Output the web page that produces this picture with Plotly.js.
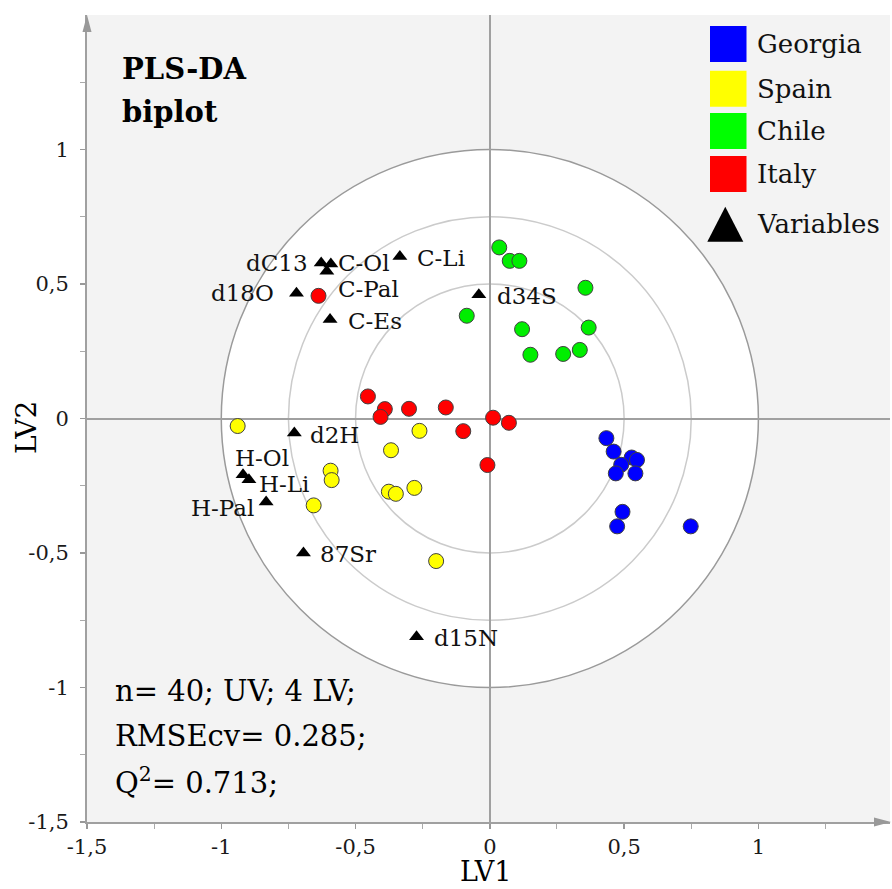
<!DOCTYPE html>
<html><head><meta charset="utf-8">
<script src="https://cdn.plot.ly/plotly-3.0.1.min.js"></script>
<style>html,body{margin:0;padding:0;background:#fff}</style>
</head><body><div id="chart" style="width:892px;height:889px"></div>
<script>
// ---- data ----
const countries = ['Georgia','Spain','Chile','Italy'];
const countryColors = ['#0000ff','#ffff00','#00ee00','#ff0000'];

const georgiaX = [0.434,0.461,0.528,0.548,0.489,0.469,0.542,0.494,0.474,0.748];
const georgiaY = [-0.073,-0.123,-0.145,-0.154,-0.172,-0.204,-0.204,-0.347,-0.401,-0.401];

const spainX = [-0.939,-0.262,-0.368,-0.593,-0.589,-0.656,-0.376,-0.350,-0.281,-0.200];
const spainY = [-0.028,-0.046,-0.118,-0.194,-0.229,-0.323,-0.272,-0.280,-0.258,-0.530];

const chileX = [0.035,0.074,0.110,-0.086,0.356,0.120,0.368,0.151,0.273,0.335];
const chileY = [0.636,0.586,0.586,0.382,0.486,0.332,0.338,0.237,0.240,0.255];

const italyX = [-0.638,-0.454,-0.391,-0.407,-0.301,-0.164,-0.099,0.012,0.071,-0.009];
const italyY = [0.456,0.082,0.035,0.006,0.036,0.041,-0.047,0.003,-0.016,-0.173];

const varNames = ['dC13','C-Ol','C-Pal','C-Li','d18O','C-Es','d34S','d2H','H-Ol','H-Li','H-Pal','87Sr','d15N'];
const varX = [-0.628,-0.592,-0.607,-0.335,-0.720,-0.595,-0.041,-0.728,-0.919,-0.897,-0.833,-0.694,-0.273];
const varY = [0.578,0.574,0.547,0.602,0.466,0.368,0.460,-0.054,-0.209,-0.228,-0.310,-0.500,-0.811];

const tickVals = [-1.5,-1,-0.5,0,0.5,1];
const tickText = ['-1,5','-1','-0,5','0','0,5','1'];
const minorVals = [-1.25,-0.75,-0.25,0.25,0.75,1.25];
const circleRadii = [1, 0.75, 0.5];

// ---- styles / layout helpers ----
const FONT = 'DejaVu Serif, Liberation Serif, serif';
const W = 892, H = 889, ML = 87, MR = 2, MT = 15, MB = 67;
const PW = W - ML - MR, PH = H - MT - MB;
const px2x = p => (p - ML) / PW;          // pixel -> paper x
const py2y = p => (H - MB - p) / PH;      // pixel -> paper y

// label placement (pixel offsets) for variable names
const labAnchor = ['right','left','left','left','right','left','left','left','left','left','right','left','left'];
const labDx = [-11,5,9,15,-20,16,16,14,-10,8,-10,15,15];
const labDy = [0,1,-18,-1,0,-1,-1,-2,17,-4,-6,-1,-1];

const groupsX = [georgiaX, spainX, chileX, italyX];
const groupsY = [georgiaY, spainY, chileY, italyY];

const traces = countries.map((c,i) => ({
  type:'scatter', mode:'markers', name:c,
  x: groupsX[i], y: groupsY[i],
  marker:{size:15, color:countryColors[i], line:{color:'#404040', width:1}},
  showlegend:false, hoverinfo:'x+y+name'
}));
traces.push({
  type:'scatter', mode:'markers', name:'Variables',
  x: varX, y: varY, text: varNames,
  marker:{symbol:'triangle-up', size:13, color:'#000'},
  showlegend:false, hoverinfo:'text'
});

const shapes = [];
circleRadii.forEach((r,i) => {
  shapes.push({type:'circle', xref:'x', yref:'y', x0:-r, x1:r, y0:-r, y1:r,
    layer:'below',
    fillcolor: i===0 ? '#ffffff' : 'rgba(0,0,0,0)',
    line:{color: i===0 ? '#9a9a9a' : '#cbcbcb', width:1.5}});
});
// axis arrows
shapes.push({type:'path', xref:'paper', yref:'paper', layer:'above',
  path:`M0,1 L${-4.5/PW},${1-17/PH} L${4.5/PW},${1-17/PH} Z`,
  fillcolor:'#999', line:{width:0}});
shapes.push({type:'path', xref:'paper', yref:'paper', layer:'above',
  path:`M${px2x(891)},0 L${px2x(874)},${4.5/PH} L${px2x(874)},${-4.5/PH} Z`,
  fillcolor:'#999', line:{width:0}});

// legend (drawn manually: big swatches)
const legRowY = [44, 88.7, 131, 174];
countries.forEach((c,i) => {
  shapes.push({type:'rect', xref:'paper', yref:'paper',
    x0:px2x(710), x1:px2x(746.5), y0:py2y(legRowY[i]+18), y1:py2y(legRowY[i]-18),
    fillcolor:countryColors[i]==='#00ee00'?'#00ff00':countryColors[i], line:{width:0}});
});
shapes.push({type:'path', xref:'paper', yref:'paper',
  path:`M${px2x(725.3)},${py2y(206.7)} L${px2x(743.3)},${py2y(241.7)} L${px2x(707.3)},${py2y(241.7)} Z`,
  fillcolor:'#000', line:{width:0}});

const annotations = [];
countries.concat(['Variables']).forEach((c,i) => {
  const yc = i < 4 ? legRowY[i] : 224;
  annotations.push({xref:'paper', yref:'paper', x:px2x(755), y:py2y(yc), xanchor:'left', yanchor:'middle',
    text:c, showarrow:false, font:{family:FONT, size:26, color:'#111'}});
});
varNames.forEach((n,i) => {
  annotations.push({xref:'x', yref:'y', x:varX[i], y:varY[i], xanchor:labAnchor[i], yanchor:'middle',
    xshift:labDx[i], yshift:labDy[i], text:n, showarrow:false,
    font:{family:FONT, size:23, color:'#111'}});
});
annotations.push({xref:'paper', yref:'paper', x:px2x(120), y:py2y(69), xanchor:'left', yanchor:'middle',
  text:'<b>PLS-DA</b>', showarrow:false, font:{family:FONT, size:29, color:'#000'}});
annotations.push({xref:'paper', yref:'paper', x:px2x(120), y:py2y(112), xanchor:'left', yanchor:'middle',
  text:'<b>biplot</b>', showarrow:false, font:{family:FONT, size:29, color:'#000'}});
const infoLines = ['n= 40; UV; 4 LV;','RMSEcv= 0.285;','Q<sup>2</sup>= 0.713;'];
const infoY = [691, 736, 781];
infoLines.forEach((t,i) => {
  annotations.push({xref:'paper', yref:'paper', x:px2x(113), y:py2y(infoY[i]), xanchor:'left', yanchor:'middle',
    text:t, showarrow:false, font:{family:FONT, size:29, color:'#000'}});
});
annotations.push({xref:'paper', yref:'paper', x:px2x(26), y:py2y(428), xanchor:'center', yanchor:'middle',
  text:'LV2', textangle:-90, showarrow:false, font:{family:FONT, size:28, color:'#000'}});
annotations.push({xref:'paper', yref:'paper', x:px2x(485), y:py2y(871), xanchor:'center', yanchor:'middle',
  text:'LV1', showarrow:false, font:{family:FONT, size:27, color:'#000'}});

const axisCommon = {
  tickmode:'array', tickvals:tickVals, ticktext:tickText,
  ticks:'outside', ticklen:5, tickcolor:'#999', tickwidth:1.5,
  minor:{tickmode:'array', tickvals:minorVals, ticks:'outside', ticklen:5, tickcolor:'#aaa', tickwidth:1},
  showgrid:false, zeroline:true, zerolinecolor:'#a0a0a0', zerolinewidth:2,
  showline:true, linecolor:'#a0a0a0', linewidth:2,
  tickfont:{family:FONT, size:21, color:'#1a1a1a'},
  automargin:false, fixedrange:true
};

const layout = {
  width:W, height:H,
  margin:{l:ML, r:MR, t:MT, b:MB},
  paper_bgcolor:'#ffffff', plot_bgcolor:'#f3f3f3',
  showlegend:false,
  xaxis:Object.assign({}, axisCommon, {range:[-1.5,1.49], ticklabelstandoff:0}),
  yaxis:Object.assign({}, axisCommon, {range:[-1.5,1.5], ticklabelstandoff:7}),
  shapes:shapes, annotations:annotations
};

Plotly.newPlot('chart', traces, layout, {displayModeBar:false, staticPlot:true});
</script></body></html>
